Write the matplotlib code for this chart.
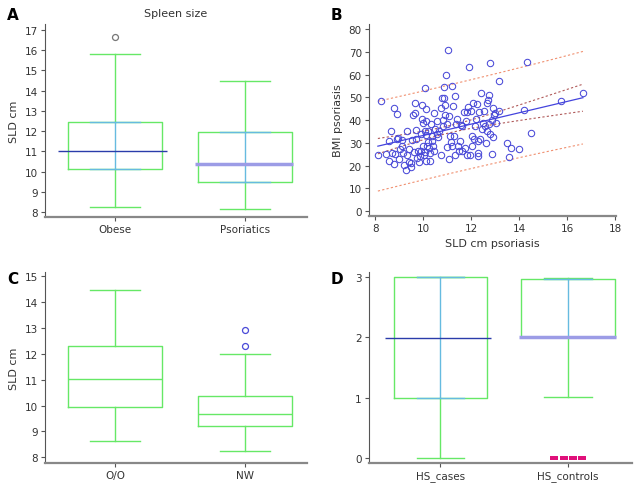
import numpy as np
import matplotlib
matplotlib.use("Agg")
import matplotlib.pyplot as plt

# ---- data -------------------------------------------------------------
# panel A: spleen size (SLD cm), box stats
a_groups = ["Obese", "Psoriatics"]
a_whislo = [8.23, 8.17]
a_q1 = [10.12, 9.48]
a_med = [11.0, 10.38]
a_q3 = [12.44, 11.95]
a_whishi = [15.8, 14.48]
a_fliers = [[16.68], []]

# panel B: SLD cm vs BMI in psoriasis
b_sld = [8.25, 8.1, 8.46, 8.56, 8.57, 8.64, 8.67, 8.77, 8.78, 8.8, 8.89, 8.88,
         8.93, 8.99, 9.02, 9.1, 9.1, 9.16, 9.17, 9.27, 9.31, 9.32, 9.38, 9.39,
         9.48, 9.5, 9.52, 9.57, 9.62, 9.66, 9.67, 9.7, 9.71, 9.74, 9.78, 9.82,
         9.85, 9.88, 9.92, 9.94, 9.95, 9.98, 9.99, 10.02, 10.05, 10.06, 10.09,
         10.08, 10.1, 10.12, 10.13, 10.16, 10.2, 10.21, 10.24, 10.27, 10.28,
         10.31, 10.34, 10.38, 10.41, 10.44, 10.46, 10.49, 10.55, 10.58, 10.62,
         10.66, 10.72, 10.74, 10.77, 10.8, 10.83, 10.86, 10.87, 10.9, 10.92,
         10.95, 10.97, 10.99, 11.02, 11.05, 11.08, 11.1, 11.15, 11.18, 11.2,
         11.25, 11.27, 11.31, 11.34, 11.38, 11.42, 11.45, 11.5, 11.52, 11.56,
         11.6, 11.63, 11.68, 11.72, 11.76, 11.8, 11.84, 11.87, 11.91, 11.94,
         11.97, 12.01, 12.05, 12.08, 12.12, 12.15, 12.19, 12.22, 12.26, 12.29,
         12.3, 12.33, 12.36, 12.42, 12.44, 12.47, 12.53, 12.57, 12.61, 12.64,
         12.67, 12.69, 12.72, 12.75, 12.78, 12.8, 12.85, 12.87, 12.89, 12.92,
         12.94, 12.97, 13.03, 13.17, 13.17, 13.47, 13.58, 13.67, 13.99, 14.18,
         14.34, 14.48, 15.76, 16.66]
b_bmi = [48.4, 24.7, 25.0, 30.9, 22.0, 35.4, 25.3, 45.4, 20.7, 25.1, 42.8, 31.8,
         32.2, 22.9, 27.4, 28.8, 31.3, 25.4, 20.1, 17.9, 35.3, 24.7, 27.1, 21.5,
         19.3, 21.2, 31.2, 42.1, 25.9, 47.5, 43.2, 35.7, 31.8, 23.4, 26.6, 21.5,
         24.4, 26.2, 34.0, 40.6, 46.8, 38.7, 28.8, 24.7, 54.1, 35.0, 45.0,
         25.9, 39.4, 22.2, 33.5, 28.8, 35.4, 30.3, 27.6, 25.6, 22.2,
         38.4, 32.9, 31.0, 28.4, 43.1, 26.2, 36.2, 34.0, 39.6, 32.5,
         35.4, 45.3, 24.7, 49.7, 37.6, 39.9, 49.7, 54.6, 46.5, 42.1,
         59.7, 28.1, 38.4, 71.0, 41.8, 22.9, 33.2, 30.3, 54.9, 28.8,
         46.2, 33.2, 50.6, 24.7, 38.4, 40.3, 28.8, 26.6, 31.0, 37.9,
         26.2, 37.6, 43.5, 27.6, 39.4, 24.7, 43.5, 45.7, 63.5, 24.7,
         43.8, 28.8, 33.2, 47.6, 31.8, 37.6, 40.3, 47.1, 31.0, 25.3,
         24.1, 43.5, 31.8, 52.1, 36.2, 38.8, 43.8, 37.6, 30.0, 35.4,
         47.6, 48.7, 51.2, 38.1, 34.0, 65.1, 39.9, 25.1, 45.3, 32.5,
         42.1, 43.2, 38.8, 57.4, 44.0, 30.0, 23.7, 27.6, 27.4, 44.6,
         65.6, 34.3, 48.2, 52.1]

# panel C: SLD cm by weight group
c_groups = ["O/O", "NW"]
c_whislo = [8.62, 8.23]
c_q1 = [9.94, 9.2]
c_med = [11.02, 9.66]
c_q3 = [12.3, 10.38]
c_whishi = [14.47, 12.01]
c_fliers = [[], [12.31, 12.91]]

# panel D: HS scores
d_groups = ["HS_cases", "HS_controls"]
d_whislo = [0.0, 1.01]
d_q1 = [1.0, 2.0]
d_med = [1.99, 2.01]
d_q3 = [3.0, 2.97]
d_whishi = [3.0, 2.98]
d_fliers = [[], [0, 0, 0, 0]]

# ---- style ------------------------------------------------------------
plt.rcParams["font.family"] = ["DejaVu Sans"]
plt.rcParams["font.size"] = 7.5

GREEN = "#66e866"
LBLUE = "#66bbe0"
NAVY = "#2a3caa"
LAV = "#9c9ce6"
PT = "#4a4ad8"
TXT = "#333333"

fig = plt.figure(figsize=(6.38, 4.85), dpi=100)
ax_a = fig.add_axes([0.0705, 0.5505, 0.4107, 0.398])
ax_b = fig.add_axes([0.578, 0.5526, 0.3875, 0.396])
ax_c = fig.add_axes([0.0705, 0.0433, 0.4107, 0.394])
ax_d = fig.add_axes([0.578, 0.0433, 0.4125, 0.394])

# wide flat rectangle used for the HS_controls outliers
FLAT = [(-1, -0.5), (1, -0.5), (1, 0.5), (-1, 0.5), (-1, -0.5)]


def style_axes(ax):
    for s in ("top", "right"):
        ax.spines[s].set_visible(False)
    ax.spines["left"].set_color("#555555")
    ax.spines["left"].set_linewidth(0.8)
    ax.spines["bottom"].set_color("#888888")
    ax.spines["bottom"].set_linewidth(1.6)
    ax.tick_params(axis="both", length=3, width=0.8, color="#555555",
                   labelsize=7.5, pad=2, labelcolor=TXT)


def boxes(ax, lo, q1, med, q3, hi, fliers, inner_blue, med_style,
          flier_style, width=0.72, cap=0.385):
    pos = np.arange(1, len(med) + 1)
    for i, p in enumerate(pos):
        x0, x1 = p - width / 2, p + width / 2
        c0, c1 = p - cap / 2, p + cap / 2
        # box
        ax.plot([x0, x1, x1, x0, x0], [q1[i], q1[i], q3[i], q3[i], q1[i]],
                color=GREEN, lw=1.0, zorder=2)
        # whiskers + caps
        ax.plot([p, p], [lo[i], q1[i]], color=GREEN, lw=1.0, zorder=2)
        ax.plot([p, p], [q3[i], hi[i]], color=GREEN, lw=1.0, zorder=2)
        ax.plot([c0, c1], [lo[i], lo[i]], color=GREEN, lw=1.0, zorder=2)
        ax.plot([c0, c1], [hi[i], hi[i]], color=GREEN, lw=1.0, zorder=2)
        if inner_blue[i]:
            ax.plot([p, p], [q1[i], q3[i]], color=LBLUE, lw=1.0, zorder=3)
            ax.plot([c0, c1], [q1[i], q1[i]], color=LBLUE, lw=1.0, zorder=3)
            ax.plot([c0, c1], [q3[i], q3[i]], color=LBLUE, lw=1.0, zorder=3)
        col, lw, ext = med_style[i]
        ax.plot([x0 - ext, x1 + ext * 0.5], [med[i], med[i]], color=col,
                lw=lw, zorder=4, solid_capstyle="butt")
        fl = fliers[i]
        if fl:
            mk, mcol, spread = flier_style[i]
            offs = (np.arange(len(fl)) - (len(fl) - 1) / 2) * spread
            if mk == "s":
                ax.plot(p + offs, fl, ls="none", marker=FLAT, ms=5.6,
                        color=mcol, mew=0, zorder=5, clip_on=False)
            else:
                ax.plot(p + offs, fl, ls="none", marker="o", ms=4.3,
                        mfc="white", mec=mcol, mew=0.9, zorder=5)
    ax.set_xticks(pos)
    return pos


# ---- panel A ----------------------------------------------------------
style_axes(ax_a)
boxes(ax_a, a_whislo, a_q1, a_med, a_q3, a_whishi, a_fliers,
      inner_blue=[True, True],
      med_style=[(NAVY, 1.0, 0.08), (LAV, 2.5, 0.02)],
      flier_style=[("o", "#777777", 0), None])
ax_a.set_xticklabels(a_groups)
ax_a.set_xlim(0.462, 2.478)
ax_a.set_ylim(7.75, 17.3)
ax_a.set_yticks(range(8, 18))
ax_a.set_ylabel("SLD cm", fontsize=8, labelpad=4, color=TXT)
ax_a.set_title("Spleen size", fontsize=8, pad=6, color=TXT)

# ---- panel B ----------------------------------------------------------
style_axes(ax_b)
x = np.array(b_sld)
y = np.array(b_bmi)
n = len(x)
slope, icpt = np.polyfit(x, y, 1)
resid = y - (icpt + slope * x)
s = np.sqrt(np.sum(resid ** 2) / (n - 2))
sxx = np.sum((x - x.mean()) ** 2)
t = 1.976
xs = np.linspace(x.min(), x.max(), 50)
yh = icpt + slope * xs
se_fit = s * np.sqrt(1 / n + (xs - x.mean()) ** 2 / sxx)
se_pred = s * np.sqrt(1 + 1 / n + (xs - x.mean()) ** 2 / sxx)
ax_b.plot(x, y, ls="none", marker="o", ms=4.6, mfc="none", mec=PT, mew=0.75,
          zorder=3)
ax_b.plot(xs, yh, color="#4444dd", lw=0.9, zorder=4)
ax_b.plot(xs, yh + t * se_fit, color="#b05a5a", lw=0.8, ls=(0, (2, 2)))
ax_b.plot(xs, yh - t * se_fit, color="#b05a5a", lw=0.8, ls=(0, (2, 2)))
ax_b.plot(xs, yh + t * se_pred, color="#f09070", lw=0.8, ls=(0, (2, 2)))
ax_b.plot(xs, yh - t * se_pred, color="#f09070", lw=0.8, ls=(0, (2, 2)))
ax_b.set_xlim(7.72, 18.04)
ax_b.set_ylim(-2.2, 82.3)
ax_b.set_xticks(range(8, 19, 2))
ax_b.set_yticks(range(0, 81, 10))
ax_b.set_xlabel("SLD cm psoriasis", fontsize=8, labelpad=4, color=TXT)
ax_b.set_ylabel("BMI psoriasis", fontsize=8, labelpad=4, color=TXT)

# ---- panel C ----------------------------------------------------------
style_axes(ax_c)
boxes(ax_c, c_whislo, c_q1, c_med, c_q3, c_whishi, c_fliers,
      inner_blue=[False, False],
      med_style=[(GREEN, 1.0, 0.0), (GREEN, 1.0, 0.0)],
      flier_style=[None, ("o", PT, 0)])
ax_c.set_xticklabels(c_groups)
ax_c.set_xlim(0.462, 2.478)
ax_c.set_ylim(7.78, 15.17)
ax_c.set_yticks(range(8, 16))
ax_c.set_ylabel("SLD cm", fontsize=8, labelpad=4, color=TXT)

# ---- panel D ----------------------------------------------------------
style_axes(ax_d)
boxes(ax_d, d_whislo, d_q1, d_med, d_q3, d_whishi, d_fliers,
      inner_blue=[True, True],
      med_style=[(NAVY, 1.0, 0.07), (LAV, 2.5, 0.02)],
      flier_style=[None, ("s", "#e0107a", 0.071)], width=0.73, cap=0.37)
ax_d.set_xticklabels(d_groups)
ax_d.set_xlim(0.44, 2.5)
ax_d.set_ylim(-0.083, 3.08)
ax_d.set_yticks(range(0, 4))

# ---- panel letters ----------------------------------------------------
for lab, (fx, fy) in zip("ABCD", [(0.011, 0.968), (0.518, 0.968),
                                  (0.011, 0.423), (0.518, 0.423)]):
    fig.text(fx, fy, lab, fontsize=11, fontweight="bold", va="center",
             family=["DejaVu Sans"])

fig.savefig("out.png", dpi=100)
